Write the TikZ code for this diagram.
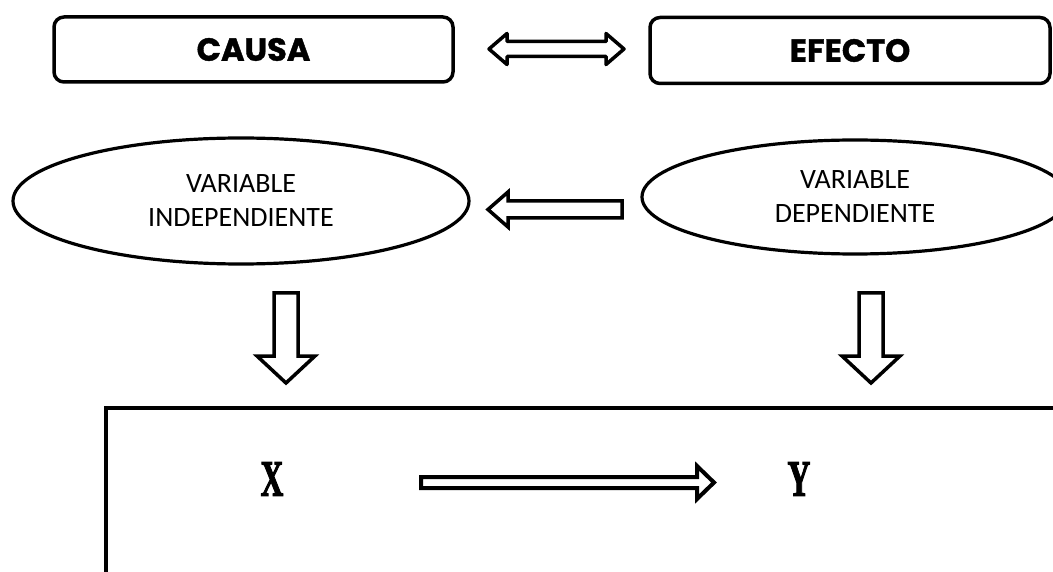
\documentclass[tikz,border=0pt]{standalone}
\usepackage{fontspec}
\usepackage{graphicx}
\setmainfont{Carlito}
\newfontfamily\headfont{Poppins}[BoldFeatures={FakeBold=1.2}]
\newfontfamily\xyfont{Liberation Serif}[BoldFeatures={FakeBold=2.5}]
\usetikzlibrary{shapes.geometric}
\begin{document}
\begin{tikzpicture}[x=1pt,y=-1pt,
  box/.style={draw, rectangle, line width=3.5pt, rounded corners=10pt, inner sep=0pt,
    font=\headfont\bfseries\fontsize{32}{36}\selectfont},
  ell/.style={draw, ellipse, line width=3.2pt, inner sep=0pt, align=center,
    font=\fontsize{28}{34}\selectfont},
  blk/.style={draw, line width=3.5pt, fill=white},
  xy/.style={inner sep=0pt, font=\xyfont\bfseries\fontsize{51}{51}\selectfont}
]
\clip (0,0) rectangle (1053,572);
\fill[white] (0,0) rectangle (1053,572);
% top boxes
\node[box, minimum width=399pt, minimum height=65pt] (causa) at (253.5,49.5) {CAUSA};
\node[box, minimum width=400pt, minimum height=66pt] (efecto) at (850,50.5) {EFECTO};
% double arrow
\draw[blk, line join=round] (489,49) -- (507,33.5) -- (507,41.5) -- (606,41.5) -- (606,33.5)
  -- (624,49) -- (606,64.5) -- (606,56.5) -- (507,56.5) -- (507,64.5) -- cycle;
% ellipses
\node[ell, minimum width=456pt, minimum height=126pt] (vi) at (241,201) {VARIABLE\\INDEPENDIENTE};
\node[ell, minimum width=426pt, minimum height=114pt] (vd) at (855,197) {VARIABLE\\DEPENDIENTE};
% left arrow
\draw[blk] (488,209.5) -- (508,192) -- (508,201) -- (622,201) -- (622,218) -- (508,218)
  -- (508,227) -- cycle;
% down arrows
\draw[blk] (274,293) -- (298,293) -- (298,356) -- (315,356) -- (286,383) -- (257,356)
  -- (274,356) -- cycle;
\draw[blk] (859,293) -- (883,293) -- (883,356) -- (900,356) -- (871,383) -- (842,356)
  -- (859,356) -- cycle;
% bottom box (cut off)
\draw[line width=3.5pt] (106,600) -- (106,408) -- (1080,408);
% X and Y
\node[xy] (x) at (272,479) {\scalebox{0.62}[1]{X}};
\node[xy] (y) at (799,479) {\scalebox{0.62}[1]{Y}};
\draw[blk, line width=4pt] (421,477) -- (697,477) -- (697,466) -- (714,482.5) -- (697,499)
  -- (697,488) -- (421,488) -- cycle;
\end{tikzpicture}
\end{document}
